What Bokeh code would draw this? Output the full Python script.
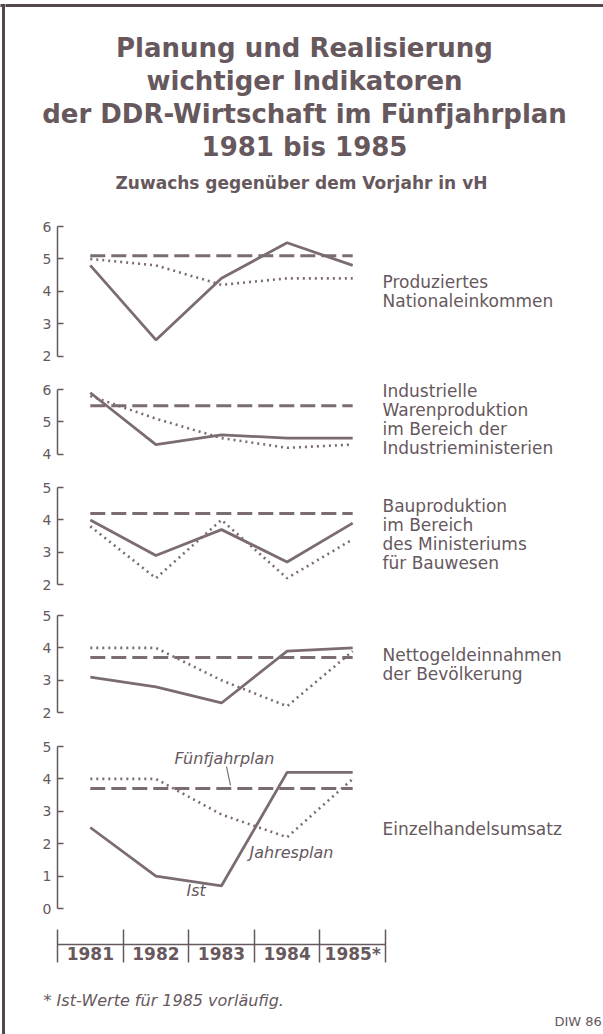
from bokeh.plotting import figure
from bokeh.layouts import column, row
from bokeh.models import Range1d, LinearAxis, FixedTicker, Label, CustomJSTickFormatter
from bokeh.core.properties import value
from bokeh.embed import file_html
from bokeh.resources import INLINE

# ---------------- data ----------------
years = [1981, 1982, 1983, 1984, 1985]
year_labels = ["1981", "1982", "1983", "1984", "1985*"]

# Produziertes Nationaleinkommen
nat_fuenf = [5.1, 5.1, 5.1, 5.1, 5.1]
nat_jahres = [5.0, 4.8, 4.2, 4.4, 4.4]
nat_ist = [4.8, 2.5, 4.4, 5.5, 4.8]

# Industrielle Warenproduktion
ind_fuenf = [5.5, 5.5, 5.5, 5.5, 5.5]
ind_jahres = [5.8, 5.1, 4.5, 4.2, 4.3]
ind_ist = [5.9, 4.3, 4.6, 4.5, 4.5]

# Bauproduktion
bau_fuenf = [4.2, 4.2, 4.2, 4.2, 4.2]
bau_jahres = [3.8, 2.2, 4.0, 2.2, 3.4]
bau_ist = [4.0, 2.9, 3.7, 2.7, 3.9]

# Nettogeldeinnahmen der Bevölkerung
net_fuenf = [3.7, 3.7, 3.7, 3.7, 3.7]
net_jahres = [4.0, 4.0, 3.0, 2.2, 3.9]
net_ist = [3.1, 2.8, 2.3, 3.9, 4.0]

# Einzelhandelsumsatz
ezh_fuenf = [3.7, 3.7, 3.7, 3.7, 3.7]
ezh_jahres = [4.0, 4.0, 2.9, 2.2, 4.0]
ezh_ist = [2.5, 1.0, 0.7, 4.2, 4.2]

title_lines = ["Planung und Realisierung", "wichtiger Indikatoren",
               "der DDR-Wirtschaft im Fünfjahrplan", "1981 bis 1985"]
subtitle = "Zuwachs gegenüber dem Vorjahr in vH"
footnote = "* Ist-Werte für 1985 vorläufig."
source = "DIW 86"

# ---------------- layout / style ----------------
FONT = "DejaVu Sans"
TXT = "#66585d"
LINE = "#7b6c71"
AX = "#66585d"
FRAME = "#54474b"
PAGE_W, PAGE_H = 603, 1034
OFFX = 5                   # page x where the column of figures starts
COL_W = PAGE_W - OFFX
PX = 32.4                  # pixels per percentage point
XPX = 65.6                 # pixels per year
X0_PAGE = 57               # page x of 1980.5
X_START = 1980.5
X_END = X_START + (PAGE_W - X0_PAGE) / XPX
LS = 19.3                  # label line spacing
COMMON = dict(output_backend="svg", toolbar_location=None, frame_align=False)


def xv(page_x):
    return X_START + (page_x - X0_PAGE) / XPX


def label(p, x, y, text, size="16px", style="normal", align="left", color=TXT):
    p.add_layout(Label(x=x, y=y, text=text, text_align=align, text_baseline="middle",
                       text_font=FONT, text_font_size=size, text_font_style=style,
                       text_color=color))


def bare(p):
    p.outline_line_color = None
    p.grid.visible = False
    p.background_fill_color = "white"
    p.border_fill_color = "white"


def panel(fig_top, fig_bottom, frame_top, lo, hi, fuenf, jahres, ist, lines, line_y0):
    y_end = hi + (frame_top - fig_top) / PX
    y_start = y_end - (fig_bottom - fig_top) / PX
    p = figure(width=COL_W, height=fig_bottom - fig_top,
               x_range=Range1d(X_START, X_END), y_range=Range1d(y_start, y_end),
               x_axis_location=None,
               min_border_left=X0_PAGE - OFFX, min_border_right=0,
               min_border_top=0, min_border_bottom=0, **COMMON)
    bare(p)
    ax = p.yaxis[0]
    ax.bounds = (lo, hi)
    ax.ticker = FixedTicker(ticks=list(range(lo, hi + 1)))
    ax.major_tick_in = 6
    ax.major_tick_out = 0
    ax.minor_tick_in = 0
    ax.minor_tick_out = 0
    ax.axis_line_color = AX
    ax.axis_line_width = 1.5
    ax.major_tick_line_color = AX
    ax.major_tick_line_width = 1.5
    ax.major_label_text_font = FONT
    ax.major_label_text_font_size = "14px"
    ax.major_label_text_color = TXT
    ax.major_label_standoff = 6
    p.line(years, fuenf, line_dash="15 6", line_width=3, color=LINE)
    p.line(years, jahres, line_dash="2 4", line_width=2.6, color=LINE)
    p.line(years, ist, line_width=2.8, color=LINE)
    for i, t in enumerate(lines):
        py = line_y0 + i * LS
        label(p, xv(382), hi - (py - frame_top) / PX, t, size="17px")
    return p


# ---------------- left frame strip ----------------
strip = figure(width=OFFX, height=PAGE_H, x_range=Range1d(0, OFFX), y_range=Range1d(PAGE_H, 0),
               x_axis_location=None, y_axis_location=None, min_border=0, **COMMON)
bare(strip)
strip.quad(left=[2], right=[4], top=[4], bottom=[PAGE_H], color=FRAME)
strip.quad(left=[0], right=[OFFX], top=[4], bottom=[6], color=FRAME)

# ---------------- title ----------------
t = figure(width=COL_W, height=205, x_range=Range1d(OFFX, PAGE_W), y_range=Range1d(205, 0),
           x_axis_location=None, y_axis_location=None, min_border=0, **COMMON)
bare(t)
t.quad(left=[OFFX], right=[PAGE_W], top=[4], bottom=[6], color=FRAME)
for i, line in enumerate(title_lines):
    label(t, 304, 47 + 33 * i, line, size="26px", style="bold", align="center")
label(t, 301, 182, subtitle, size="17px", style="bold", align="center")

# ---------------- panels ----------------
p1 = panel(205, 372, 226, 2, 6, nat_fuenf, nat_jahres, nat_ist,
           ["Produziertes", "Nationaleinkommen"], 281)
p2 = panel(372, 470, 389, 4, 6, ind_fuenf, ind_jahres, ind_ist,
           ["Industrielle", "Warenproduktion", "im Bereich der", "Industrieministerien"], 390)
p3 = panel(470, 600, 487, 2, 5, bau_fuenf, bau_jahres, bau_ist,
           ["Bauproduktion", "im Bereich", "des Ministeriums", "für Bauwesen"], 505)
p4 = panel(600, 729, 615, 2, 5, net_fuenf, net_jahres, net_ist,
           ["Nettogeldeinnahmen", "der Bevölkerung"], 654)
p5 = panel(729, 920, 746, 0, 5, ezh_fuenf, ezh_jahres, ezh_ist,
           ["Einzelhandelsumsatz"], 828)


# in-panel annotations (Einzelhandelsumsatz)
def y5(py):
    return 5 - (py - 746) / PX


label(p5, xv(174), y5(758), "Fünfjahrplan", size="16px", style="italic")
label(p5, xv(249), y5(852), "Jahresplan", size="16px", style="italic")
label(p5, xv(186), y5(890), "Ist", size="16px", style="italic")
p5.segment(x0=[xv(226)], y0=[y5(766)], x1=[xv(230)], y1=[y5(785)], line_color=LINE, line_width=1.2)

# ---------------- year ruler + footnote ----------------
R_TOP, R_AXIS = 920, 944
RH = PAGE_H - R_AXIS
r = figure(width=COL_W, height=PAGE_H - R_TOP, x_range=Range1d(xv(OFFX), X_END), y_range=Range1d(0, 1),
           x_axis_location=None, y_axis_location=None, min_border_left=0, min_border_right=0,
           min_border_top=R_AXIS - R_TOP, min_border_bottom=0, **COMMON)
bare(r)
bounds = [y - 0.5 for y in years] + [years[-1] + 0.5]
rax = LinearAxis(ticker=FixedTicker(ticks=bounds), bounds=(bounds[0], bounds[-1]),
                 formatter=CustomJSTickFormatter(code="return ''"),
                 major_tick_in=18, major_tick_out=15, minor_tick_in=0, minor_tick_out=0,
                 axis_line_color=AX, axis_line_width=1.5, major_tick_line_color=AX,
                 major_tick_line_width=1.5, major_label_standoff=0)
r.add_layout(rax, "above")


def yr(py):
    return 1 - (py - R_AXIS) / RH


r.text(x=years, y=[yr(953)] * len(years), text=year_labels, text_align="center",
       text_baseline="middle", text_font=value(FONT), text_font_size="17px",
       text_font_style="bold", text_color=TXT)
label(r, xv(43), yr(1000), footnote, size="16px", style="italic")
label(r, xv(554), yr(1021), source, size="13px")

layout = row(strip, column(t, p1, p2, p3, p4, p5, r, spacing=0), spacing=0)
open("out.html", "w").write(file_html(layout, INLINE))
